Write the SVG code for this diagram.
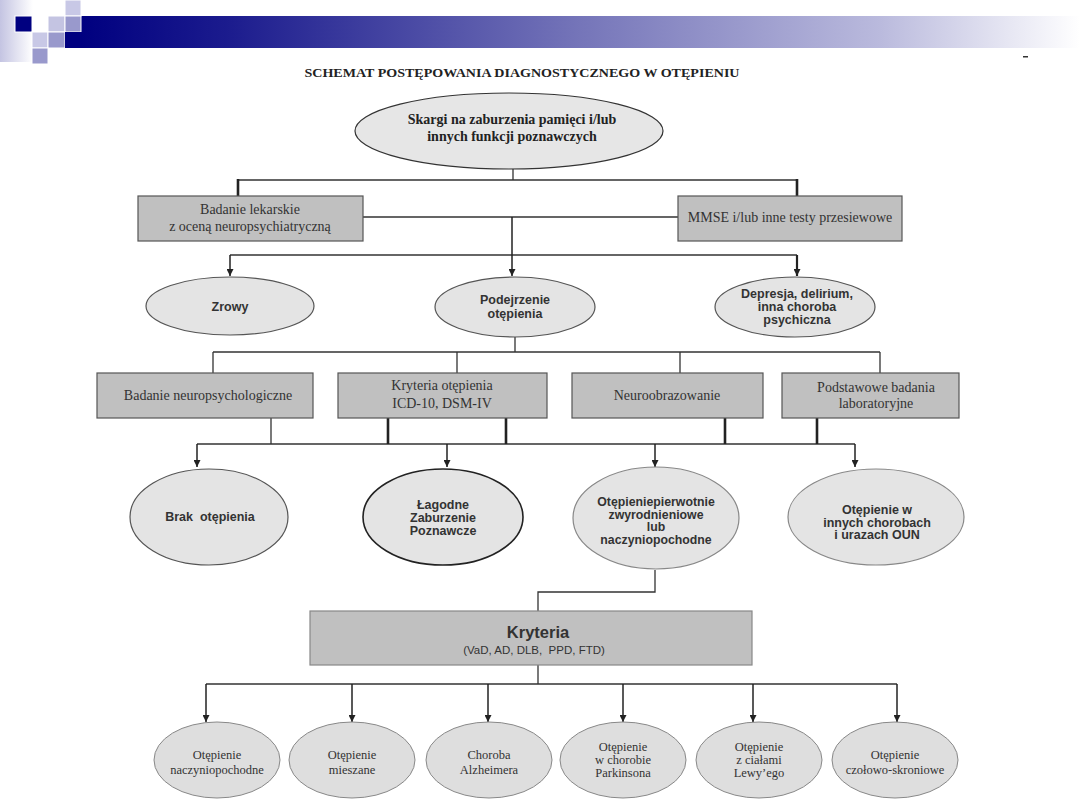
<svg xmlns="http://www.w3.org/2000/svg" width="1080" height="810" viewBox="0 0 1080 810">
<defs>
<linearGradient id="bar" x1="0" y1="0" x2="1" y2="0">
<stop offset="0" stop-color="#000080"/>
<stop offset="0.15" stop-color="#1c1c8e"/>
<stop offset="0.5" stop-color="#7575b9"/>
<stop offset="0.8" stop-color="#babadd"/>
<stop offset="1" stop-color="#ffffff"/>
</linearGradient>
<linearGradient id="strip" x1="0" y1="0" x2="1" y2="0">
<stop offset="0" stop-color="#c4c4e2"/>
<stop offset="1" stop-color="#ffffff"/>
</linearGradient>
<marker id="ah" viewBox="0 0 10 10" refX="10" refY="5" markerWidth="7" markerHeight="7" markerUnits="userSpaceOnUse" orient="auto">
<path d="M0,0 L10,5 L0,10 z" fill="#222"/>
</marker>
<style>
.box{fill:#c0c0c0;stroke:#555;stroke-width:1.2}
.ell1{fill:#e6e6e6;stroke:#333;stroke-width:1.2}
.ell2{fill:#e4e4e4;stroke:#555;stroke-width:1.2}
.ell3{fill:#dedede;stroke:#888;stroke-width:1}
.ser{font-family:"Liberation Serif","Times New Roman",serif;fill:#333;text-anchor:middle}
.serb{font-family:"Liberation Serif","Times New Roman",serif;font-weight:bold;fill:#222;text-anchor:middle}
.sans{font-family:"Liberation Sans",Arial,sans-serif;font-weight:bold;fill:#333;text-anchor:middle}
.ln{fill:none;stroke:#333;stroke-width:1.3}
.thk{fill:none;stroke:#222;stroke-width:2.6}
.ar{fill:none;stroke:#222;stroke-width:1.5;marker-end:url(#ah)}
.sq{stroke:#fff;stroke-width:1}
</style>
</defs>
<rect width="1080" height="810" fill="#fff"/>

<g id="header">
<rect x="0" y="0" width="33" height="62" fill="url(#strip)"/>
<rect x="81" y="16" width="999" height="32" fill="url(#bar)"/>
<rect class="sq" x="15" y="16" width="17" height="16" fill="#000080"/>
<rect class="sq" x="65" y="0" width="16" height="16" fill="#c8c8e6"/>
<rect class="sq" x="48" y="16" width="17" height="16" fill="#c4c4e2"/>
<rect class="sq" x="65" y="16" width="16" height="16" fill="#9999cc"/>
<rect class="sq" x="32" y="32" width="16" height="16" fill="#c8c8e6"/>
<rect class="sq" x="48" y="32" width="17" height="16" fill="#9999cc"/>
<rect x="65" y="32" width="17" height="16" fill="#000080"/>
<rect class="sq" x="32" y="48" width="16" height="16" fill="#9999cc"/>
<rect x="1023" y="56" width="5" height="1.5" fill="#333"/>
</g>

<text id="title" x="522" y="77" class="serb" font-size="12.5" textLength="435" lengthAdjust="spacingAndGlyphs">SCHEMAT POSTĘPOWANIA DIAGNOSTYCZNEGO W OTĘPIENIU</text>

<g id="connectors">
<path class="ln" d="M513,169 V180 M238,180 H797 M363,217 H678"/>
<path class="thk" d="M238,179 V196 M797,179 V196"/>
<path class="ln" d="M230,255 H797"/>
<path class="ar" d="M512,217 V276"/>
<path class="ar" d="M230,255 V276"/>
<path class="ar" d="M797,255 V276" style="stroke-width:2.2"/>
<path class="ln" d="M515,337 V352 M213,352 H880 M213,352 V373 M457,352 V373 M680,352 V373 M880,352 V373"/>
<path class="ln" d="M271,418 V444 M197,444 H855"/>
<path class="thk" d="M388,418 V444 M506,418 V444 M725,418 V444 M817,418 V444"/>
<path class="ar" d="M197,444 V467"/>
<path class="ar" d="M447,444 V467"/>
<path class="ar" d="M655,444 V467"/>
<path class="ar" d="M855,444 V467"/>
<path class="ln" d="M655,570 V592 H538 V611 M538,665 V684 M206,684 H897"/>
<path class="ar" d="M206,684 V722"/>
<path class="ar" d="M352,684 V722"/>
<path class="ar" d="M488,684 V722"/>
<path class="ar" d="M623,684 V722"/>
<path class="ar" d="M753,684 V722"/>
<path class="ar" d="M897,684 V722"/>
</g>

<g id="skargi">
<ellipse class="ell1" cx="509" cy="131" rx="154" ry="38"/>
<text class="serb" x="512" y="124" font-size="14">Skargi na zaburzenia pamięci i/lub</text>
<text class="serb" x="512" y="141" font-size="14">innych funkcji poznawczych</text>
</g>

<g id="badanie-lekarskie">
<rect class="box" x="138" y="196" width="225" height="45"/>
<text class="ser" x="250" y="214" font-size="14">Badanie lekarskie</text>
<text class="ser" x="250" y="231" font-size="14">z oceną neuropsychiatryczną</text>
</g>

<g id="mmse">
<rect class="box" x="678" y="196" width="224" height="45"/>
<text class="ser" x="790" y="222" font-size="14">MMSE i/lub inne testy przesiewowe</text>
</g>

<g id="zrowy">
<ellipse class="ell2" cx="230" cy="306" rx="84" ry="29"/>
<text class="sans" x="230" y="311" font-size="12.5">Zrowy</text>
</g>

<g id="podejrzenie">
<ellipse class="ell2" cx="515" cy="307" rx="80" ry="30"/>
<text class="sans" x="515" y="304" font-size="12.5">Podejrzenie</text>
<text class="sans" x="515" y="318" font-size="12.5">otępienia</text>
</g>

<g id="depresja">
<ellipse class="ell2" cx="795" cy="307" rx="80" ry="30"/>
<text class="sans" x="797" y="298" font-size="12.5">Depresja, delirium,</text>
<text class="sans" x="797" y="311" font-size="12.5">inna choroba</text>
<text class="sans" x="797" y="324" font-size="12.5">psychiczna</text>
</g>

<g id="badanie-neuropsych">
<rect class="box" x="97" y="373" width="216" height="45"/>
<text class="ser" x="208" y="400" font-size="14">Badanie neuropsychologiczne</text>
</g>

<g id="kryteria-otepienia">
<rect class="box" x="338" y="373" width="209" height="45"/>
<text class="ser" x="442" y="390" font-size="14">Kryteria otępienia</text>
<text class="ser" x="442" y="408" font-size="14">ICD-10, DSM-IV</text>
</g>

<g id="neuroobrazowanie">
<rect class="box" x="572" y="373" width="191" height="45"/>
<text class="ser" x="667" y="400" font-size="14">Neuroobrazowanie</text>
</g>

<g id="podstawowe">
<rect class="box" x="782" y="373" width="177" height="45"/>
<text class="ser" x="876" y="392" font-size="14">Podstawowe badania</text>
<text class="ser" x="876" y="408" font-size="14">laboratoryjne</text>
</g>

<g id="brak">
<ellipse class="ell2" cx="209" cy="517" rx="79" ry="48"/>
<text class="sans" x="210" y="521" font-size="12.5" xml:space="preserve">Brak  otępienia</text>
</g>

<g id="lagodne">
<ellipse class="ell2" cx="443" cy="517" rx="80" ry="48" style="stroke:#222;stroke-width:1.6"/>
<text class="sans" x="443" y="509" font-size="12.5">Łagodne</text>
<text class="sans" x="443" y="522" font-size="12.5">Zaburzenie</text>
<text class="sans" x="443" y="535" font-size="12.5">Poznawcze</text>
</g>

<g id="pierwotne">
<ellipse class="ell2" cx="656" cy="518" rx="83" ry="51" style="stroke:#888"/>
<text class="sans" x="656" y="506" font-size="12.3">Otępieniepierwotnie</text>
<text class="sans" x="656" y="519" font-size="12.3">zwyrodnieniowe</text>
<text class="sans" x="656" y="531" font-size="12.3">lub</text>
<text class="sans" x="656" y="544" font-size="12.3">naczyniopochodne</text>
</g>

<g id="inne-choroby">
<ellipse class="ell2" cx="876" cy="517" rx="88" ry="48" style="stroke:#888"/>
<text class="sans" x="877" y="514" font-size="12.5">Otępienie w</text>
<text class="sans" x="877" y="527" font-size="12.5">innych chorobach</text>
<text class="sans" x="877" y="539" font-size="12.5">i urazach OUN</text>
</g>

<g id="kryteria">
<rect class="box" x="310" y="611" width="442" height="54" style="stroke:#888"/>
<text class="sans" x="538" y="638" font-size="16.5">Kryteria</text>
<text x="534" y="654" font-size="11.5" font-family="Liberation Sans, Arial, sans-serif" fill="#333" text-anchor="middle" xml:space="preserve">(VaD, AD, DLB,  PPD, FTD)</text>
</g>

<g id="naczyniopochodne">
<ellipse class="ell3" cx="217" cy="760" rx="63" ry="38"/>
<text class="ser" x="217" y="759" font-size="12.5">Otępienie</text>
<text class="ser" x="217" y="774" font-size="12.5">naczyniopochodne</text>
</g>

<g id="mieszane">
<ellipse class="ell3" cx="352" cy="760" rx="63" ry="38"/>
<text class="ser" x="352" y="759" font-size="12.5">Otępienie</text>
<text class="ser" x="352" y="774" font-size="12.5">mieszane</text>
</g>

<g id="alzheimer">
<ellipse class="ell3" cx="489" cy="760" rx="63" ry="38"/>
<text class="ser" x="489" y="759" font-size="12.5">Choroba</text>
<text class="ser" x="489" y="774" font-size="12.5">Alzheimera</text>
</g>

<g id="parkinson">
<ellipse class="ell3" cx="623" cy="760" rx="63" ry="38"/>
<text class="ser" x="623" y="751" font-size="12.5">Otępienie</text>
<text class="ser" x="623" y="764" font-size="12.5">w chorobie</text>
<text class="ser" x="623" y="777" font-size="12.5">Parkinsona</text>
</g>

<g id="lewy">
<ellipse class="ell3" cx="759" cy="760" rx="63" ry="38"/>
<text class="ser" x="759" y="751" font-size="12.5">Otępienie</text>
<text class="ser" x="759" y="764" font-size="12.5">z ciałami</text>
<text class="ser" x="759" y="777" font-size="12.5">Lewy’ego</text>
</g>

<g id="czolowo">
<ellipse class="ell3" cx="895" cy="760" rx="63" ry="38"/>
<text class="ser" x="895" y="759" font-size="12.5">Otępienie</text>
<text class="ser" x="895" y="774" font-size="12.5">czołowo-skroniowe</text>
</g>
</svg>
